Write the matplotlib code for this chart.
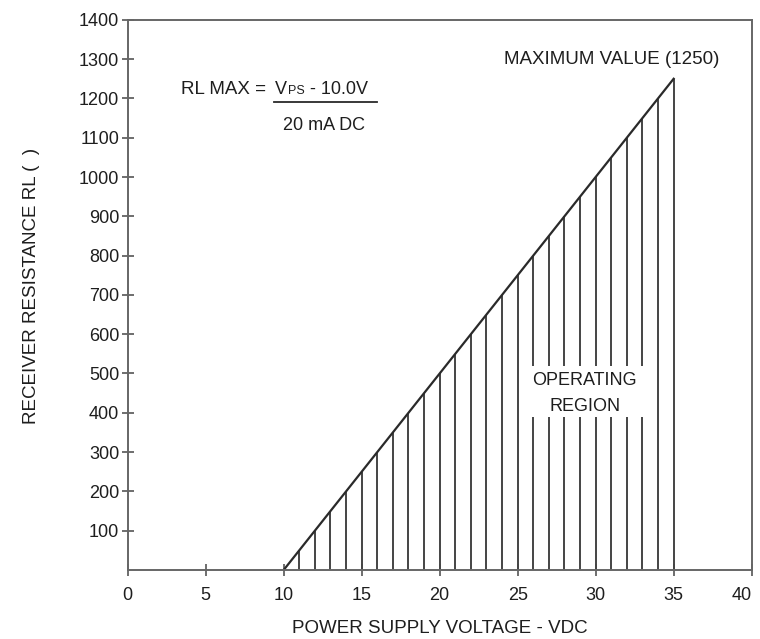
import matplotlib
matplotlib.use("Agg")
import matplotlib.pyplot as plt
from matplotlib import font_manager

# Data
supply_voltage = [11, 12, 13, 14, 15, 16, 17, 18, 19, 20, 21, 22, 23, 24, 25,
                  26, 27, 28, 29, 30, 31, 32, 33, 34, 35]
max_resistance = [50, 100, 150, 200, 250, 300, 350, 400, 450, 500, 550, 600, 650,
                  700, 750, 800, 850, 900, 950, 1000, 1050, 1100, 1150, 1200, 1250]
limit_x = [10, 35]
limit_y = [0, 1250]
gapped_voltages = [26, 27, 28, 29, 30, 31, 32, 33]
gap_range = [390, 520]
x_ticks = [0, 5, 10, 15, 20, 25, 30, 35, 40]
y_ticks = [100, 200, 300, 400, 500, 600, 700, 800, 900, 1000, 1100, 1200, 1300, 1400]

names = {f.name for f in font_manager.fontManager.ttflist}
fam = [f for f in ["Liberation Sans Narrow", "Liberation Sans", "DejaVu Sans"] if f in names]
plt.rcParams['font.family'] = fam

fig = plt.figure(figsize=(7.6, 6.39), dpi=100)
ax = fig.add_axes([0.168, 0.108, 0.821, 0.861])
ax.set_xlim(0, 40)
ax.set_ylim(0, 1400)

dark = "#2a2a2a"
txt = "#1e1e1e"
for v, r in zip(supply_voltage, max_resistance):
    if v in gapped_voltages:
        ax.plot([v, v], [0, gap_range[0]], color="#444444", lw=1.4, solid_capstyle="butt")
        ax.plot([v, v], [gap_range[1], r], color="#444444", lw=1.4, solid_capstyle="butt")
    else:
        ax.plot([v, v], [0, r], color="#444444", lw=1.4, solid_capstyle="butt")
ax.plot(limit_x, limit_y, color=dark, lw=1.6)

ax.set_xticks(x_ticks)
ax.set_yticks(y_ticks)
ax.tick_params(axis="both", direction="inout", length=8, width=1.2, color="#555555",
               labelsize=13, labelcolor=txt)
ax.tick_params(axis="x", pad=8)
ax.tick_params(axis="y", pad=2)
for s in ax.spines.values():
    s.set_color("#666666")
    s.set_linewidth(1.4)
xlabels = ax.get_xticklabels()
xlabels[-1].set_horizontalalignment("right")
xlabels[-1].set_x(40)

ax.set_xlabel("POWER SUPPLY VOLTAGE - VDC", fontsize=13.5, color=txt, labelpad=12)
ax.set_ylabel("RECEIVER RESISTANCE RL (  )", fontsize=13.5, color=txt)
ax.yaxis.set_label_coords(-0.141, 0.516)

ax.text(31.0, 1300, "MAXIMUM VALUE (1250)", ha="center", va="center", fontsize=13.5, color=txt)
ax.text(29.3, 481, "OPERATING", ha="center", va="center", fontsize=13, color=txt)
ax.text(29.3, 415, "REGION", ha="center", va="center", fontsize=13, color=txt)

# formula
ax.text(3.45, 1211, "RL MAX =", ha="left", va="baseline", fontsize=13.5, color=txt)
t1 = ax.text(9.45, 1211, "V", ha="left", va="baseline", fontsize=13, color=txt)
t2 = ax.annotate("PS", xy=(1, 0), xycoords=t1, xytext=(0.5, 1), textcoords="offset points",
                 ha="left", va="bottom", fontsize=9, color=txt)
ax.annotate(" - 10.0V", xy=(1, 0), xycoords=t2, xytext=(0, -1), textcoords="offset points",
            ha="left", va="bottom", fontsize=13, color=txt)
ax.plot([9.4, 16.0], [1191, 1191], color=dark, lw=1.3)
ax.text(12.6, 1132, "20 mA DC", ha="center", va="center", fontsize=13, color=txt)

fig.savefig("out.png", dpi=100)
